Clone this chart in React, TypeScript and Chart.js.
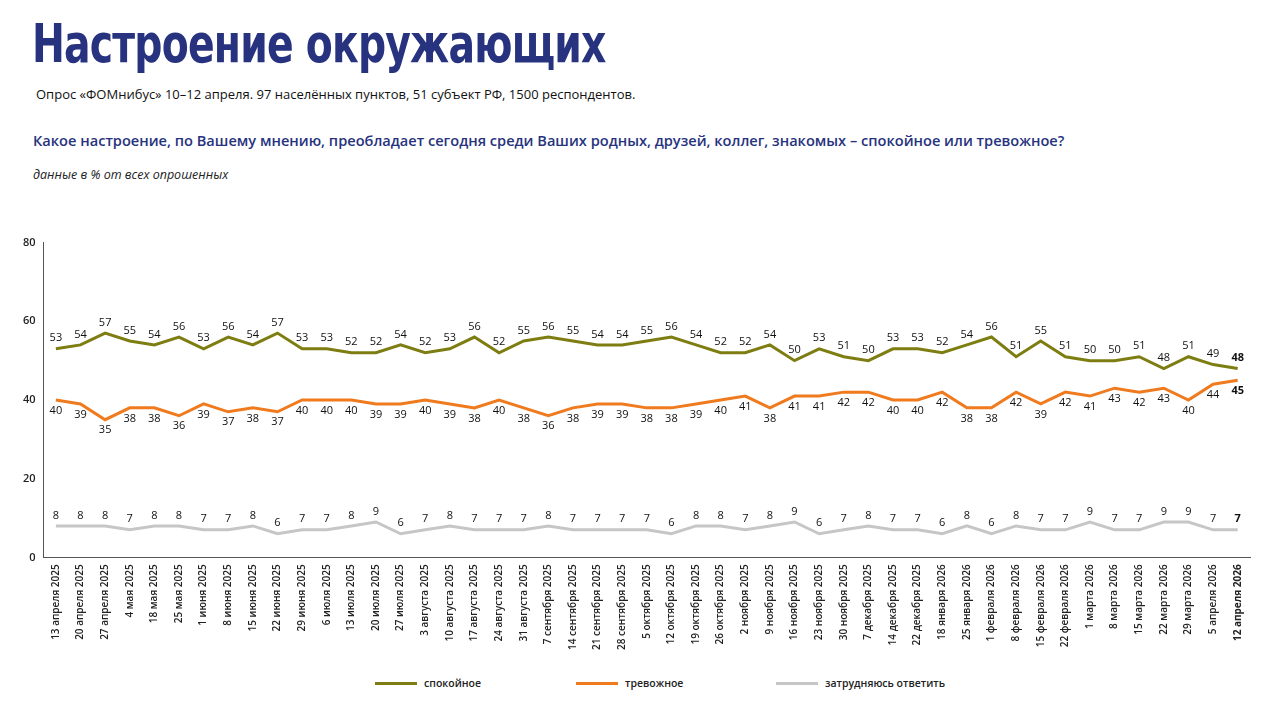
import React, { useEffect, useRef } from "react";
import { Chart, registerables } from "chart.js";
Chart.register(...registerables);

const categories = ["13 апреля 2025","20 апреля 2025","27 апреля 2025","4 мая 2025","18 мая 2025","25 мая 2025","1 июня 2025","8 июня 2025","15 июня 2025","22 июня 2025","29 июня 2025","6 июля 2025","13 июля 2025","20 июля 2025","27 июля 2025","3 августа 2025","10 августа 2025","17 августа 2025","24 августа 2025","31 августа 2025","7 сентября 2025","14 сентября 2025","21 сентября 2025","28 сентября 2025","5 октября 2025","12 октября 2025","19 октября 2025","26 октября 2025","2 ноября 2025","9 ноября 2025","16 ноября 2025","23 ноября 2025","30 ноября 2025","7 декабря 2025","14 декабря 2025","22 декабря 2025","18 января 2026","25 января 2026","1 февраля 2026","8 февраля 2026","15 февраля 2026","22 февраля 2026","1 марта 2026","8 марта 2026","15 марта 2026","22 марта 2026","29 марта 2026","5 апреля 2026","12 апреля 2026"];
const calm = [53,54,57,55,54,56,53,56,54,57,53,53,52,52,54,52,53,56,52,55,56,55,54,54,55,56,54,52,52,54,50,53,51,50,53,53,52,54,56,51,55,51,50,50,51,48,51,49,48];
const anxious = [40,39,35,38,38,36,39,37,38,37,40,40,40,39,39,40,39,38,40,38,36,38,39,39,38,38,39,40,41,38,41,41,42,42,40,40,42,38,38,42,39,42,41,43,42,43,40,44,45];
const unsure = [8,8,8,7,8,8,7,7,8,6,7,7,8,9,6,7,8,7,7,7,8,7,7,7,7,6,8,8,7,8,9,6,7,8,7,7,6,8,6,8,7,7,9,7,7,9,9,7,7];
const yTicks = [0, 20, 40, 60, 80];

const GREEN = "#7d7d12", ORANGE = "#f07a1e", GRAY = "#c6c6c6";
const FONT = "'Open Sans', 'Noto Sans', sans-serif";

const labelPlugin = {
  id: "labels",
  afterDatasetsDraw(chart: any) {
    const ctx = chart.ctx;
    ctx.save();
    ctx.textAlign = "center";
    ctx.fillStyle = "#111";
    chart.data.datasets.forEach((ds: any, di: number) => {
      const meta = chart.getDatasetMeta(di);
      meta.data.forEach((pt: any, i: number) => {
        const last = i === ds.data.length - 1;
        ctx.font = `${last ? "bold " : ""}11px ${FONT}`;
        const below = di === 1;
        ctx.textBaseline = below ? "top" : "bottom";
        ctx.fillText(String(ds.data[i]), pt.x, below ? pt.y + 5 : pt.y - 5);
      });
    });
    ctx.restore();
  },
};

export default function App() {
  const ref = useRef<HTMLCanvasElement>(null);
  useEffect(() => {
    const chart = new Chart(ref.current!, {
      type: "line",
      data: {
        labels: categories,
        datasets: [
          { label: "спокойное", data: calm, borderColor: GREEN, borderWidth: 3, pointRadius: 0, tension: 0 },
          { label: "тревожное", data: anxious, borderColor: ORANGE, borderWidth: 3, pointRadius: 0, tension: 0 },
          { label: "затрудняюсь ответить", data: unsure, borderColor: GRAY, borderWidth: 3, pointRadius: 0, tension: 0 },
        ],
      },
      options: {
        animation: false,
        responsive: false,
        layout: { padding: { left: 20, right: 20, top: 5 } },
        plugins: { legend: { display: false }, tooltip: { enabled: false } },
        scales: {
          x: {
            offset: true,
            grid: { display: false, drawTicks: true, tickLength: 4 },
            border: { color: "#555" },
            ticks: {
              autoSkip: false, maxRotation: 90, minRotation: 90, color: "#222",
              font: (c: any) => ({ family: FONT, size: 10, weight: c.index === categories.length - 1 ? "bold" : "600" }),
            },
          },
          y: {
            min: 0, max: 80,
            afterBuildTicks: (s: any) => { s.ticks = yTicks.map((v) => ({ value: v })); },
            grid: { display: false, drawTicks: true, tickLength: 5 },
            border: { color: "#555" },
            ticks: { color: "#222", font: { family: FONT, size: 11, weight: "600" } },
          },
        },
      },
      plugins: [labelPlugin],
    });
    return () => chart.destroy();
  }, []);

  const leg = (c: string, t: string, x: number) => (
    <div style={{ position: "absolute", left: x, top: 676, display: "flex", alignItems: "center", fontSize: 10.5, fontWeight: 600, color: "#222" }}>
      <span style={{ display: "inline-block", width: 42, height: 3, background: c, marginRight: 7 }} />{t}
    </div>
  );

  return (
    <div style={{ position: "fixed", left: 0, top: 0, width: 1280, height: 717, background: "#fff", fontFamily: FONT, overflow: "hidden" }}>
      <div style={{ position: "absolute", left: 32, top: 12, whiteSpace: "nowrap", transform: "scaleX(0.81)", transformOrigin: "left top", fontFamily: "'DejaVu Sans Condensed', 'DejaVu Sans', sans-serif", fontWeight: 700, fontSize: 54, color: "#27337e", letterSpacing: -1 }}>Настроение окружающих</div>
      <div style={{ position: "absolute", left: 36, top: 85, fontSize: 13, color: "#111", whiteSpace: "nowrap" }}>Опрос «ФОМнибус» 10–12 апреля. 97 населённых пунктов, 51 субъект РФ, 1500 респондентов.</div>
      <div style={{ position: "absolute", left: 33, top: 130, fontSize: 14.6, fontWeight: 600, color: "#27337e", whiteSpace: "nowrap" }}>Какое настроение, по Вашему мнению, преобладает сегодня среди Ваших родных, друзей, коллег, знакомых – спокойное или тревожное?</div>
      <div style={{ position: "absolute", left: 33, top: 166, fontSize: 12.5, fontStyle: "italic", color: "#222" }}>данные в % от всех опрошенных</div>
      <canvas ref={ref} width={1270} height={420} style={{ position: "absolute", left: 0, top: 233 }} />
      {leg(GREEN, "спокойное", 375)}
      {leg(ORANGE, "тревожное", 576)}
      {leg(GRAY, "затрудняюсь ответить", 776)}
    </div>
  );
}
